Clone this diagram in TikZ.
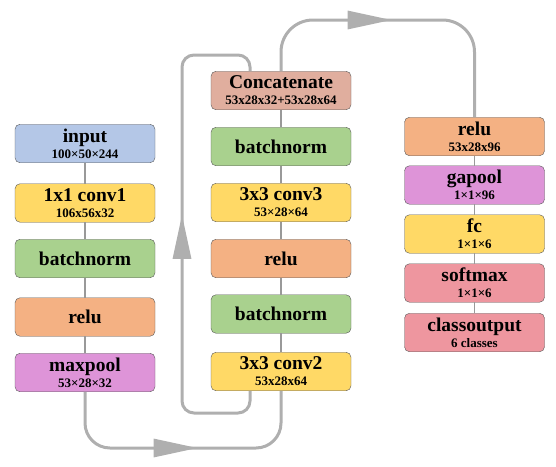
\documentclass[tikz,border=0pt]{standalone}
\usepackage{fontspec}
\setmainfont{Liberation Serif}
\usetikzlibrary{arrows.meta,decorations.markings}

\definecolor{inputblue}{HTML}{B4C7E7}
\definecolor{convyellow}{HTML}{FFD966}
\definecolor{bngreen}{HTML}{A9D18E}
\definecolor{reluorange}{HTML}{F4B183}
\definecolor{poolpink}{HTML}{DE94D8}
\definecolor{concatsalmon}{HTML}{E0AE9E}
\definecolor{outred}{HTML}{EE969F}
\definecolor{flowgray}{RGB}{175,175,175}

\begin{document}
\begin{tikzpicture}[x=1pt,y=-1pt,
		layer/.style={draw=black!65, fill=#1, rounded corners=5pt, minimum width=140pt, minimum height=38.5pt, inner sep=0pt, align=center, font=\rmfamily\bfseries\fontsize{13}{16}\selectfont},
		link/.style={draw=black!40, line width=1.5pt},
		flow/.style={color=flowgray, line width=3pt},
		arrowat/.style={postaction={decorate, decoration={markings, mark=at position #1 with {\arrow{Triangle[length=44pt,width=18pt]}}}}}
	]
		\newcommand\lbl[1]{{\fontsize{19.5}{16}\selectfont #1}} %% big layer name
	
		\useasboundingbox (0,0) rectangle (556,466);
	
		% left column
		\node[layer=inputblue] (input) at (85,143.5) {\lbl{input}\\100×50×244};
		\node[layer=convyellow] (conv1) at (85,203) {\lbl{1x1 conv1}\\106x56x32};
		\node[layer=bngreen] (bn1) at (85,258.5) {\lbl{batchnorm}};
		\node[layer=reluorange] (relu1) at (85,317) {\lbl{relu}};
		\node[layer=poolpink] (maxpool) at (85,372.5) {\lbl{maxpool}\\53×28×32};
	
		% middle column
		\node[layer=concatsalmon] (concat) at (281,90.5) {\lbl{Concatenate}\\53x28x32+53x28x64};
		\node[layer=bngreen] (bn3) at (281,146.5) {\lbl{batchnorm}};
		\node[layer=convyellow] (conv3) at (281,202.5) {\lbl{3x3 conv3}\\53×28×64};
		\node[layer=reluorange] (relu2) at (281,258.5) {\lbl{relu}};
		\node[layer=bngreen] (bn2) at (281,314) {\lbl{batchnorm}};
		\node[layer=convyellow] (conv2) at (281,371.5) {\lbl{3x3 conv2}\\53x28x64};
	
		% right column
		\node[layer=reluorange] (relu3) at (474.5,136.5) {\lbl{relu}\\53x28x96};
		\node[layer=poolpink] (gapool) at (474.5,185) {\lbl{gapool}\\1×1×96};
		\node[layer=convyellow] (fc) at (474.5,234) {\lbl{fc}\\1×1×6};
		\node[layer=outred] (softmax) at (474.5,283) {\lbl{softmax}\\1×1×6};
		\node[layer=outred] (classout) at (474.5,332.5) {\lbl{classoutput}\\6 classes};
	
		\draw[link] (input) -- (conv1) -- (bn1) -- (relu1) -- (maxpool);
		\draw[link] (concat) -- (bn3) -- (conv3) -- (relu2) -- (bn2) -- (conv2);
		\draw[link] (relu3) -- (gapool) -- (fc) -- (softmax) -- (classout);
	
		\coordinate (bottomrow) at (0,448);
		\coordinate (skipbot) at (182,413);
		\coordinate (skiptop) at (182,55);
		\coordinate (toprow) at (0,20);
	
		\draw[flow, rounded corners=25pt, arrowat=158pt] (maxpool.south) |- (conv2.south |- bottomrow) -- (conv2.south);
		\draw[flow, rounded corners=12pt, arrowat=278pt] ([xshift=-31pt]conv2.south) |- (skipbot) -- (skiptop) -| ([xshift=-31pt]concat.north);
		\draw[flow, rounded corners=32pt, arrowat=148pt] (concat.north) |- (relu3.north |- toprow) -- (relu3.north);
	\end{tikzpicture}
\end{document}
